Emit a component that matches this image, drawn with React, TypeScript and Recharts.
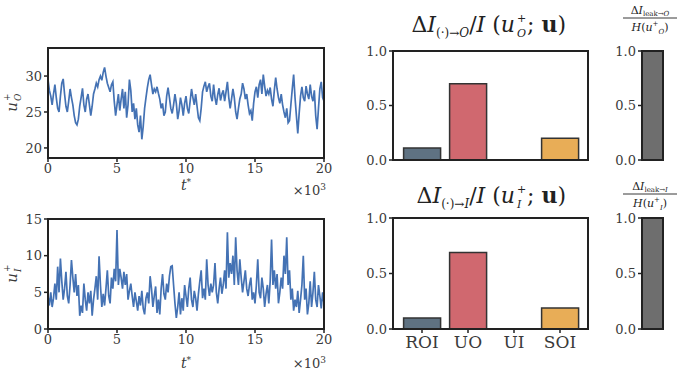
import React from 'react';
import { LineChart, Line, XAxis, YAxis, BarChart, Bar, Cell } from 'recharts';

// ---------------- data ----------------
// time axis (×10^3), one sample every 0.1
const uOValues = [
  29.5, 28.0, 27.2, 26.0, 27.5, 28.8, 27.0, 25.5, 25.0, 27.2,
  29.0, 29.6, 27.5, 25.8, 25.0, 26.5, 28.2, 27.0, 26.0, 24.5,
  23.5, 23.2, 24.0, 25.8, 27.0, 28.3, 26.0, 25.0, 26.8, 27.5,
  26.0, 24.5, 25.8, 27.5, 28.2, 29.0, 28.5, 29.5, 30.0, 29.4,
  30.5, 31.2, 30.0, 29.0, 28.4, 27.8, 28.8, 29.2, 26.5, 24.5,
  26.0, 27.5, 25.2, 26.8, 28.2, 25.5, 27.8, 24.2, 26.0, 29.5,
  28.0, 25.0, 26.2, 24.0, 25.5, 23.2, 22.2, 24.5, 21.2, 23.0,
  25.5, 27.0, 28.4, 29.5, 30.2, 28.8, 27.5, 28.2, 27.8, 28.5,
  27.6, 26.8, 25.5, 26.2, 24.5, 25.0, 27.2, 28.4, 27.0, 25.5,
  24.8, 26.0, 27.5, 26.2, 24.0, 25.2, 27.0, 26.0, 24.5, 26.2,
  27.2, 25.5, 24.8, 26.5, 28.2, 27.0, 26.0, 27.5, 25.8, 24.2,
  23.8, 25.5, 27.8, 28.6, 29.2, 27.8, 28.5, 29.0, 27.2, 26.5,
  28.8, 27.0, 26.0, 27.4, 28.3, 26.6, 27.5, 28.0, 26.5, 27.8,
  29.2, 27.0, 25.5, 26.8, 28.2, 27.0, 25.0, 24.0, 25.5, 26.8,
  27.5, 29.0, 28.2, 26.8, 27.5, 26.0, 24.8, 25.2, 23.8, 26.2,
  27.8, 28.5, 27.0, 28.8, 29.5, 27.5, 30.2, 28.6, 27.2, 28.0,
  27.5, 28.4, 26.8, 25.8, 28.0, 29.8, 28.2, 27.0, 26.2, 27.5,
  26.0, 25.0, 24.2, 25.5, 23.5, 23.8, 26.0, 28.2, 30.2, 27.0,
  24.5, 22.0, 24.8, 27.2, 28.5, 27.0, 26.5, 28.6, 27.5, 26.8,
  28.8, 27.2, 26.5, 28.0, 24.5, 22.6, 25.5, 28.2, 29.2, 27.0,
  26.5,
];

const uIValues = [
  4.5, 3.2, 5.0, 3.0, 4.2, 6.2, 4.0, 8.5, 5.0, 9.6,
  6.5, 4.0, 5.5, 7.8, 4.5, 3.5, 6.0, 9.4, 7.0, 5.0,
  7.5, 4.5, 6.0, 1.8, 3.2, 2.2, 6.2, 4.0, 2.5, 5.0,
  3.5, 5.2, 1.8, 4.0, 5.5, 7.2, 4.0, 9.9, 6.0, 3.0,
  4.8, 3.2, 5.5, 8.0, 4.5, 3.5, 7.0, 5.5, 8.2, 6.5,
  13.5, 6.0, 8.2, 7.0, 5.5, 7.8, 6.0, 7.5, 4.0, 5.2,
  6.2, 4.5, 3.0, 5.0, 3.8, 2.5, 4.5, 3.2, 5.2, 2.8,
  2.0, 4.2, 5.0, 3.5, 7.2, 5.5, 3.0, 4.5, 5.8, 2.2,
  4.0, 2.0, 5.5, 7.5, 4.8, 4.0, 6.2, 5.0, 7.2, 8.5,
  8.6, 6.0, 3.5, 1.5, 3.0, 5.0, 2.0, 4.2, 2.5, 6.0,
  4.5, 3.0, 5.5, 7.0, 4.0, 3.0, 5.2, 4.2, 2.5, 4.8,
  6.5, 8.0, 4.2, 5.5, 4.0, 9.5, 6.0, 4.5, 6.2, 5.0,
  6.0, 9.0, 5.0, 3.5, 5.5, 7.0, 4.8, 6.0, 8.0, 5.5,
  13.2, 7.0, 9.0, 7.5, 10.0, 6.0, 12.5, 8.0, 6.0, 9.5,
  7.0, 5.0, 6.5, 8.0, 5.5, 4.5, 6.0, 7.0, 4.0, 5.0,
  3.5, 6.0, 9.5, 5.0, 4.2, 7.0, 5.5, 3.0, 4.8, 6.0,
  3.5, 6.5, 12.2, 6.0, 8.0, 5.5, 7.5, 3.5, 5.0, 7.0,
  5.5, 10.0, 7.5, 12.5, 6.0, 8.0, 4.0, 5.5, 2.5, 4.0,
  3.0, 5.2, 2.2, 4.0, 6.0, 10.0, 4.0, 5.5, 2.0, 3.5,
  6.5, 3.0, 5.0, 7.8, 4.0, 3.0, 6.0, 4.5, 2.8, 5.0,
  3.5,
];

const tTicks = [0, 5, 10, 15, 20];
const uOTicks = [20, 25, 30];
const uITicks = [0, 5, 10, 15];
const barTicks = [0, 0.5, 1.0];

const categories = ['ROI', 'UO', 'UI', 'SOI'];
const dIO = [0.11, 0.70, 0.0, 0.20];
const dII = [0.10, 0.69, 0.0, 0.19];
const leakO = [1.0];
const leakI = [1.0];

// ---------------- styles ----------------
const FONT = 'DejaVu Serif';
const BLUE = '#4472b4';
const INK = '#222';
const catColors = ['#5f7282', '#d0686f', '#7b9c5e', '#e8ad57'];
const leakColor = '#6e6e6e';

const seriesTable = uOValues.map((v, i) => ({ t: i / 10, uO: v, uI: uIValues[i] }));
const barTableO = categories.map((c, i) => ({ cat: c, v: dIO[i] }));
const barTableI = categories.map((c, i) => ({ cat: c, v: dII[i] }));
const leakTableO = leakO.map((v) => ({ cat: 'leak', v }));
const leakTableI = leakI.map((v) => ({ cat: 'leak', v }));

const tickStyle = { fontFamily: FONT, fontSize: 13, fill: '#3a3a3a' };
const tickLine = { stroke: INK, strokeWidth: 1.5 };

const Frame = ({ left, top, width, height }: { left: number; top: number; width: number; height: number }) => (
  <div
    style={{
      position: 'absolute',
      left: left - 1,
      top: top - 1,
      width: width + 2,
      height: height + 2,
      border: `2px solid ${INK}`,
      boxSizing: 'border-box',
      pointerEvents: 'none',
    }}
  />
);

const TimeLabel = ({ x, y, mx, my }: { x: number; y: number; mx: number; my: number }) => (
  <g>
    <text x={x} y={y} textAnchor="middle" fontFamily={FONT} fontSize={14} fill="#3a3a3a">
      <tspan fontStyle="italic">t</tspan>
      <tspan fontSize={9} dy={-5}>*</tspan>
    </text>
    <text x={mx} y={my} textAnchor="end" fontFamily={FONT} fontSize={13} fill="#3a3a3a">
      <tspan>×10</tspan>
      <tspan fontSize={9} dy={-5}>3</tspan>
    </text>
  </g>
);

const ULabel = ({ x, y, sub }: { x: number; y: number; sub: string }) => (
  <g transform={`rotate(-90 ${x} ${y})`}>
    <text x={x - 4} y={y} textAnchor="middle" fontFamily={FONT} fontSize={15} fontStyle="italic" fill="#3a3a3a">u</text>
    <text x={x + 2} y={y - 7} textAnchor="start" fontFamily={FONT} fontSize={9} fill="#3a3a3a">+</text>
    <text x={x + 2} y={y + 4} textAnchor="start" fontFamily={FONT} fontSize={9} fontStyle="italic" fill="#3a3a3a">{sub}</text>
  </g>
);

const BigTitle = ({ x, y, target }: { x: number; y: number; target: string }) => (
  <g>
    <text x={x - 2} y={y} textAnchor="end" fontFamily={FONT} fontSize={22} fill={INK}>
      <tspan>Δ</tspan>
      <tspan fontStyle="italic">I</tspan>
      <tspan fontSize={12} dy={5}>(·)→</tspan>
      <tspan fontSize={12} fontStyle="italic">{target}</tspan>
      <tspan dy={-5}>/</tspan>
      <tspan fontStyle="italic">I</tspan>
      <tspan> (</tspan>
      <tspan fontStyle="italic">u</tspan>
    </text>
    <text x={x} y={y - 10} textAnchor="start" fontFamily={FONT} fontSize={11} fill={INK}>+</text>
    <text x={x} y={y + 5} textAnchor="start" fontFamily={FONT} fontSize={11} fontStyle="italic" fill={INK}>{target}</text>
    <text x={x + 10} y={y} textAnchor="start" fontFamily={FONT} fontSize={22} fill={INK}>
      <tspan>; </tspan>
      <tspan fontWeight="bold">u</tspan>
      <tspan>)</tspan>
    </text>
  </g>
);

const LeakTitle = ({ x, y, target }: { x: number; y: number; target: string }) => (
  <g>
    <text x={x} y={y} textAnchor="middle" fontFamily={FONT} fontSize={11} fill={INK}>
      <tspan>Δ</tspan>
      <tspan fontStyle="italic">I</tspan>
      <tspan fontSize={7} dy={2}>leak→</tspan>
      <tspan fontSize={7} fontStyle="italic">{target}</tspan>
    </text>
    <line x1={x - 27} x2={x + 27} y1={y + 4} y2={y + 4} stroke={INK} strokeWidth={0.9} />
    <text x={x} y={y + 17} textAnchor="middle" fontFamily={FONT} fontSize={11} fill={INK}>
      <tspan fontStyle="italic">H</tspan>
      <tspan>(</tspan>
      <tspan fontStyle="italic">u</tspan>
      <tspan fontSize={7} dy={-5}>+</tspan>
      <tspan fontSize={7} fontStyle="italic" dy={8}>{target}</tspan>
      <tspan dy={-3}>)</tspan>
    </text>
  </g>
);

const fmt1 = (v: number) => v.toFixed(1);

export default function App() {
  return (
    <div style={{ position: 'absolute', left: 0, top: 0, width: 700, height: 376, background: '#fff', overflow: 'hidden' }}>
      {/* top-left time series */}
      <div style={{ position: 'absolute', left: 0, top: 0 }}>
        <LineChart width={340} height={200} data={seriesTable} margin={{ top: 48, right: 16, bottom: 0, left: 0 }}>
          <XAxis dataKey="t" type="number" domain={[0, 20]} ticks={tTicks} interval={0} axisLine={false}
            tickLine={tickLine} tickSize={4} tick={tickStyle} height={42} allowDataOverflow />
          <YAxis type="number" domain={[18.6, 33.9]} ticks={uOTicks} interval={0} axisLine={false}
            tickLine={tickLine} tickSize={4} tick={tickStyle} width={48} allowDataOverflow />
          <Line dataKey="uO" stroke={BLUE} strokeWidth={1.7} dot={false} isAnimationActive={false} />
          <ULabel x={17} y={103} sub="O" />
          <TimeLabel x={186} y={190} mx={326} my={195} />
        </LineChart>
      </div>
      <Frame left={48} top={48} width={276} height={110} />

      {/* bottom-left time series */}
      <div style={{ position: 'absolute', left: 0, top: 200 }}>
        <LineChart width={340} height={176} data={seriesTable} margin={{ top: 19, right: 16, bottom: 0, left: 0 }}>
          <XAxis dataKey="t" type="number" domain={[0, 20]} ticks={tTicks} interval={0} axisLine={false}
            tickLine={tickLine} tickSize={4} tick={tickStyle} height={47} allowDataOverflow />
          <YAxis type="number" domain={[0, 15]} ticks={uITicks} interval={0} axisLine={false}
            tickLine={tickLine} tickSize={4} tick={tickStyle} width={48} allowDataOverflow />
          <Line dataKey="uI" stroke={BLUE} strokeWidth={1.7} dot={false} isAnimationActive={false} />
          <ULabel x={17} y={74} sub="I" />
          <TimeLabel x={186} y={168} mx={326} my={168} />
        </LineChart>
      </div>
      <Frame left={48} top={219} width={276} height={110} />

      {/* top bar chart */}
      <div style={{ position: 'absolute', left: 340, top: 0 }}>
        <BarChart width={260} height={172} data={barTableO} margin={{ top: 51, right: 12, bottom: 0, left: 0 }} barCategoryGap="10%">
          <XAxis dataKey="cat" padding={{ left: 6, right: 5 }} axisLine={false} tickLine={tickLine} tickSize={4}
            tick={false} height={12} interval={0} />
          <YAxis type="number" domain={[0, 1]} ticks={barTicks} tickFormatter={fmt1} interval={0} axisLine={false}
            tickLine={tickLine} tickSize={4} tick={tickStyle} width={53} />
          <Bar dataKey="v" stroke="#333" strokeWidth={1.5} isAnimationActive={false}>
            {barTableO.map((d, i) => (
              <Cell key={d.cat} fill={catColors[i]} />
            ))}
          </Bar>
          <BigTitle x={177} y={32} target="O" />
        </BarChart>
      </div>
      <Frame left={393} top={51} width={195} height={109} />

      {/* bottom bar chart */}
      <div style={{ position: 'absolute', left: 340, top: 172 }}>
        <BarChart width={260} height={204} data={barTableI} margin={{ top: 46, right: 12, bottom: 0, left: 0 }} barCategoryGap="10%">
          <XAxis dataKey="cat" padding={{ left: 6, right: 5 }} axisLine={false} tickLine={tickLine} tickSize={4}
            tick={{ ...tickStyle, fontSize: 17 }} height={47} interval={0} tickMargin={3} />
          <YAxis type="number" domain={[0, 1]} ticks={barTicks} tickFormatter={fmt1} interval={0} axisLine={false}
            tickLine={tickLine} tickSize={4} tick={tickStyle} width={53} />
          <Bar dataKey="v" stroke="#333" strokeWidth={1.5} isAnimationActive={false}>
            {barTableI.map((d, i) => (
              <Cell key={d.cat} fill={catColors[i]} />
            ))}
          </Bar>
          <BigTitle x={177} y={31} target="I" />
        </BarChart>
      </div>
      <Frame left={393} top={218} width={195} height={111} />

      {/* top leak bar */}
      <div style={{ position: 'absolute', left: 600, top: 0 }}>
        <BarChart width={100} height={172} data={leakTableO} margin={{ top: 51, right: 37, bottom: 0, left: 0 }} barCategoryGap={0}>
          <XAxis dataKey="cat" axisLine={false} tickLine={tickLine} tickSize={4} tick={false} height={12} interval={0} />
          <YAxis type="number" domain={[0, 1]} ticks={barTicks} tickFormatter={fmt1} interval={0} axisLine={false}
            tickLine={tickLine} tickSize={4} tick={tickStyle} width={42} />
          <Bar dataKey="v" fill={leakColor} stroke="#333" strokeWidth={1.5} isAnimationActive={false} />
          <LeakTitle x={50} y={14} target="O" />
        </BarChart>
      </div>
      <Frame left={642} top={51} width={21} height={109} />

      {/* bottom leak bar */}
      <div style={{ position: 'absolute', left: 600, top: 172 }}>
        <BarChart width={100} height={204} data={leakTableI} margin={{ top: 46, right: 37, bottom: 0, left: 0 }} barCategoryGap={0}>
          <XAxis dataKey="cat" axisLine={false} tickLine={tickLine} tickSize={4} tick={false} height={47} interval={0} />
          <YAxis type="number" domain={[0, 1]} ticks={barTicks} tickFormatter={fmt1} interval={0} axisLine={false}
            tickLine={tickLine} tickSize={4} tick={tickStyle} width={42} />
          <Bar dataKey="v" fill={leakColor} stroke="#333" strokeWidth={1.5} isAnimationActive={false} />
          <LeakTitle x={50} y={18} target="I" />
        </BarChart>
      </div>
      <Frame left={642} top={218} width={21} height={111} />
    </div>
  );
}
